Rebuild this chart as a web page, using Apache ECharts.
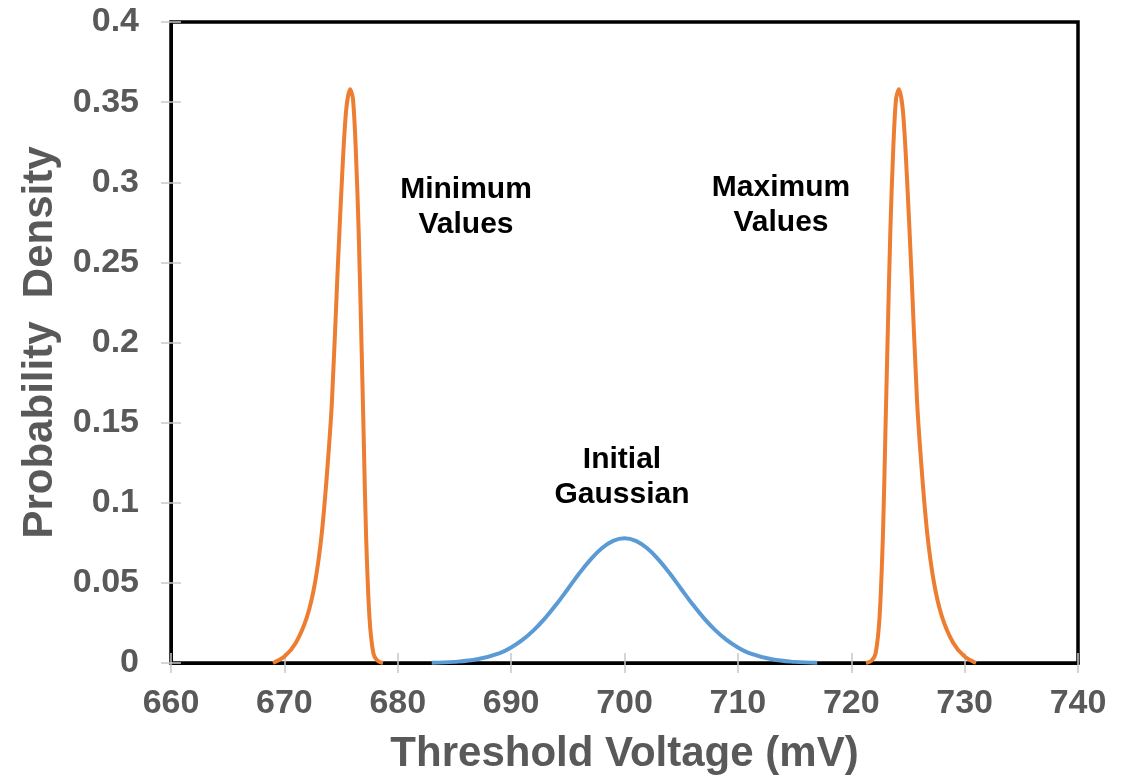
<!DOCTYPE html>
<html>
<head>
<meta charset="utf-8">
<script src="https://cdn.jsdelivr.net/npm/echarts@6/dist/echarts.min.js"></script>
<style>
html,body{margin:0;padding:0;background:#fff;}
#chart{width:1132px;height:782px;}
</style>
</head>
<body>
<div id="chart"></div>
<script>
// Threshold voltage (mV) / probability density
const minValues = [
  [669.0,0],[670.0,0.004],[671.0,0.0125],[672.0,0.029],[672.7,0.050],[673.3,0.081],
  [673.8,0.122],[674.2,0.164],[674.7,0.245],[675.1,0.305],[675.45,0.345],[675.8,0.358],
  [676.05,0.352],[676.3,0.32],[676.55,0.27],[676.8,0.20],[677.0,0.14],[677.2,0.081],
  [677.5,0.029],[677.85,0.006],[678.2,0.0015],[678.7,0]
];
const maxValues = [
  [721.3,0],[721.8,0.0015],[722.15,0.006],[722.5,0.029],[722.8,0.081],[723.0,0.14],
  [723.2,0.20],[723.45,0.27],[723.7,0.32],[723.95,0.352],[724.2,0.358],[724.55,0.345],
  [724.9,0.305],[725.3,0.245],[725.8,0.164],[726.2,0.122],[726.7,0.081],[727.3,0.050],
  [728.0,0.029],[729.0,0.0125],[730.0,0.004],[731.0,0]
];
const initialGaussian = [
  [683,0.0002],[685,0.0007],[687,0.0023],[689,0.0062],[690,0.0097],[691,0.0144],
  [692,0.0205],[693,0.0280],[694,0.0367],[695,0.0462],[696,0.0558],[697,0.0645],
  [698,0.0716],[699,0.0762],[700,0.0778],[701,0.0762],[702,0.0716],[703,0.0645],
  [704,0.0558],[705,0.0462],[706,0.0367],[707,0.0280],[708,0.0205],[709,0.0144],
  [710,0.0097],[711,0.0062],[713,0.0023],[715,0.0007],[717,0.0002]
];
const xTicks = [660,670,680,690,700,710,720,730,740];
const yTicks = [0,0.05,0.1,0.15,0.2,0.25,0.3,0.35,0.4];

const FONT = 'Arial, "Liberation Sans", sans-serif';
const GRAY = '#595959';
const TICK = '#c8c8c8';

const chart = echarts.init(document.getElementById('chart'), null, {renderer:'canvas'});

const xBase = {type:'value', min:xTicks[0], max:xTicks[xTicks.length-1], interval:10, splitLine:{show:false}};
const yBase = {type:'value', min:yTicks[0], max:yTicks[yTicks.length-1], interval:0.05, splitLine:{show:false}};

chart.setOption({
  animation:false,
  grid:{left:171, right:54, top:22, bottom:119, show:true, borderColor:'#000', borderWidth:3.5, backgroundColor:'transparent'},
  xAxis:[
    Object.assign({}, xBase, {
      name:'Threshold Voltage (mV)', nameLocation:'middle', nameGap:70,
      nameTextStyle:{fontFamily:FONT, fontSize:42, fontWeight:'bold', color:GRAY},
      axisLine:{show:true, lineStyle:{color:'#000', width:3}},
      axisTick:{show:true, inside:false, length:10, lineStyle:{color:TICK, width:1.5}},
      axisLabel:{fontFamily:FONT, fontSize:34, fontWeight:'bold', color:GRAY, margin:24}
    }),
    Object.assign({}, xBase, {
      position:'bottom', axisLine:{show:false},
      axisTick:{show:true, inside:true, length:10, lineStyle:{color:TICK, width:1.5}},
      axisLabel:{show:false}
    })
  ],
  yAxis:[
    Object.assign({}, yBase, {
      name:'Probability  Density', nameLocation:'middle', nameGap:110, nameRotate:90,
      nameTextStyle:{fontFamily:FONT, fontSize:42, fontWeight:'bold', color:GRAY},
      axisLine:{show:true, lineStyle:{color:'#000', width:3}},
      axisTick:{show:true, inside:false, length:10, lineStyle:{color:TICK, width:1.5}},
      axisLabel:{fontFamily:FONT, fontSize:34, fontWeight:'bold', color:GRAY, margin:32,
        formatter:function(v){ return String(+v.toFixed(2)); }}
    }),
    Object.assign({}, yBase, {
      position:'left', axisLine:{show:false},
      axisTick:{show:true, inside:true, length:10, lineStyle:{color:TICK, width:1.5}},
      axisLabel:{show:false}
    })
  ],
  series:[
    {type:'line', name:'Minimum Values', data:minValues, showSymbol:false, smooth:0.3,
      lineStyle:{color:'#ED7D31', width:4}, itemStyle:{color:'#ED7D31'}},
    {type:'line', name:'Maximum Values', data:maxValues, showSymbol:false, smooth:0.3,
      lineStyle:{color:'#ED7D31', width:4}, itemStyle:{color:'#ED7D31'}},
    {type:'line', name:'Initial Gaussian', data:initialGaussian, showSymbol:false, smooth:0.4,
      lineStyle:{color:'#5B9BD5', width:4}, itemStyle:{color:'#5B9BD5'}}
  ],
  graphic:[
    {type:'text', style:{text:'Minimum\nValues', x:466, y:207, align:'center', verticalAlign:'middle',
      font:'bold 30px ' + FONT, fill:'#000', lineHeight:35}},
    {type:'text', style:{text:'Maximum\nValues', x:781, y:205, align:'center', verticalAlign:'middle',
      font:'bold 30px ' + FONT, fill:'#000', lineHeight:35}},
    {type:'text', style:{text:'Initial\nGaussian', x:622, y:477, align:'center', verticalAlign:'middle',
      font:'bold 30px ' + FONT, fill:'#000', lineHeight:35}}
  ]
});
</script>
</body>
</html>
